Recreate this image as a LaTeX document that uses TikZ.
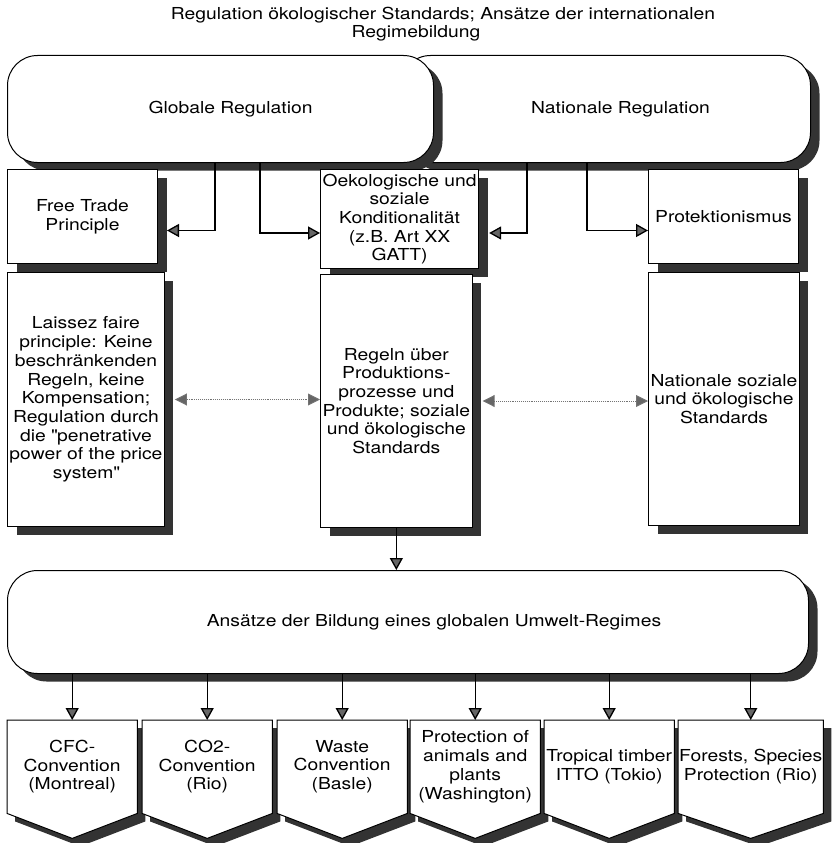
\documentclass[tikz,border=0pt]{standalone}
\usepackage{fontspec}
\setmainfont[FakeStretch=1.17]{TeX Gyre Heros}
\usetikzlibrary{arrows.meta,shadows,backgrounds}

\tikzset{
	cbox/.style={draw, fill=white, line width=1pt, align=center, anchor=north west, inner sep=2pt,
		drop shadow={shadow xshift=9pt, shadow yshift=-8pt, fill=black!80, opacity=1}},
	rbox/.style={cbox, rounded corners=30pt, minimum height=107pt},
	convbox/.style={anchor=north west, minimum width=130pt, minimum height=93pt, align=center, inner sep=1pt},
	arrowlink/.style={line width=1.3pt, -{Triangle[width=13pt,length=12pt,fill=black!60]}},
	dotlink/.style={densely dotted, black!55, line width=0.9pt,
		{Triangle[width=12pt,length=12pt,fill=black!60]}-{Triangle[width=12pt,length=12pt,fill=black!60]}}
}

\begin{document}
\begin{tikzpicture}[x=1pt, y=-1pt, font=\fontsize{16.5}{18.7}\selectfont]
	\useasboundingbox (0,0) rectangle (833,843);

	\node[align=center] (title) at (443,24) {Regulation ökologischer Standards; Ansätze der internationalen\\Regimebildung\hspace*{54pt}};

	\node[rbox, minimum width=410pt] (nat) at (400,55) {\hspace*{30pt}Nationale Regulation};
	\node[rbox, minimum width=426pt] (glob) at (7,55) {\hspace*{20pt}Globale Regulation};

	\node[cbox, minimum width=150pt, minimum height=94pt] (free) at (7,169) {Free Trade\\Principle};
	\node[cbox, minimum width=148pt, minimum height=254pt] (laissez) at (7,272) {Laissez faire\\principle: Keine\\beschränkenden\\Regeln, keine\\Kompensation;\\Regulation durch\\die \textquotedbl penetrative\\power of the price\\system\textquotedbl};
	\node[cbox, minimum width=145pt, minimum height=99pt] (oeko) at (320,169) {Oekologische und\\soziale\\Konditionalität\\(z.B. Art XX\\GATT)};
	\node[cbox, minimum width=147pt, minimum height=253pt] (regeln) at (320,274) {Regeln über\\Produktions-\\prozesse und\\Produkte; soziale\\und ökologische\\Standards};
	\node[cbox, minimum width=150pt, minimum height=94pt] (prot) at (648,169) {Protektionismus};
	\node[cbox, minimum width=150pt, minimum height=253pt] (natstd) at (648,272) {Nationale soziale\\und ökologische\\Standards};

	\node[rbox, minimum width=801pt, minimum height=103pt] (ans) at (7,570) {\hspace*{52pt}Ansätze der Bildung eines globalen Umwelt-Regimes};

	\node[convbox] (b1) at (7,720) {CFC-\\Convention\\(Montreal)};
	\node[convbox] (b2) at (142,720) {CO2-\\Convention\\(Rio)};
	\node[convbox] (b3) at (277,720) {Waste\\Convention\\(Basle)};
	\node[convbox] (b4) at (410,720) {Protection of\\animals and\\plants\\(Washington)};
	\node[convbox] (b5) at (544,720) {Tropical timber\\ITTO (Tokio)};
	\node[convbox] (b6) at (678,720) {Forests, Species\\Protection (Rio)};

	\begin{scope}[on background layer]
		\foreach \b in {b1,b2,b3,b4,b5,b6} {
			\fill[black!80] ([shift={(8pt,-8pt)}]\b.north west) -- ([shift={(8pt,-8pt)}]\b.north east) -- ([shift={(8pt,-8pt)}]\b.south east) -- ([shift={(8pt,-33pt)}]\b.south) -- ([shift={(8pt,-8pt)}]\b.south west) -- cycle;
			\draw[line width=1pt, fill=white] (\b.north west) -- (\b.north east) -- (\b.south east) -- ([yshift=-25pt]\b.south) -- (\b.south west) -- cycle;
		}
	\end{scope}

	\draw[arrowlink] (glob.south -| 215,0) |- ([shift={(9pt,-14pt)}]free.east);
	\draw[arrowlink] (glob.south -| 260,0) |- ([yshift=-14pt]oeko.west);
	\draw[arrowlink] (nat.south -| 527,0) |- ([shift={(10pt,-14pt)}]oeko.east);
	\draw[arrowlink] (nat.south -| 587,0) |- ([yshift=-14pt]prot.west);

	\draw[dotlink] ([xshift=10pt]laissez.east) -- (laissez.east -| regeln.west);
	\draw[dotlink] ([xshift=10pt]regeln.east) -- (regeln.east -| natstd.west);

	\draw[arrowlink] (regeln.south) -- (regeln.south |- ans.north);
	\foreach \b in {b1,b2,b3,b4,b5,b6}
		\draw[arrowlink] (ans.south -| \b.north) -- (\b.north);
\end{tikzpicture}
\end{document}
